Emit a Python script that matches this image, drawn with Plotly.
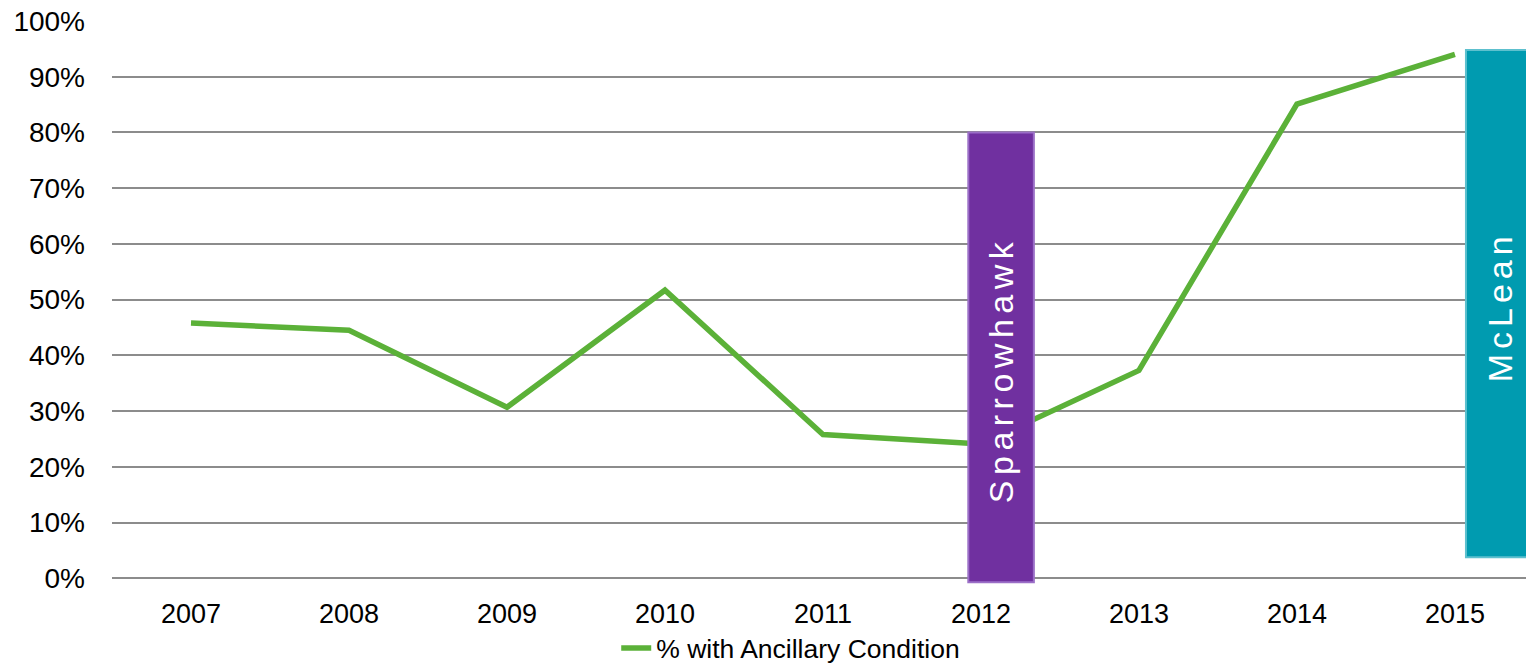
import plotly.graph_objects as go

# Share of cases with an ancillary condition, by year
years = ["2007", "2008", "2009", "2010", "2011", "2012", "2013", "2014", "2015"]
pct_ancillary = [0.458, 0.445, 0.307, 0.517, 0.258, 0.241, 0.373, 0.851, 0.940]

# Period markers: label, x-extent (category units), y-extent (fraction), fill, outline
marker_labels = ["Sparrowhawk", "McLean"]
marker_x0 = [4.92, 8.07]
marker_x1 = [5.335, 8.6]
marker_y0 = [-0.007, 0.038]
marker_y1 = [0.80, 0.948]
marker_text_y = [0.374, 0.488]
marker_fill = ["#7030A0", "#009BB0"]
marker_edge = ["#9B6FC7", "#5DC0CE"]

y_ticks = [i / 10 for i in range(11)]
y_tick_text = [f"{i * 10}%" for i in range(11)]

FONT = "Arial, 'Liberation Sans', sans-serif"

fig = go.Figure()
fig.add_trace(go.Scatter(
    x=list(range(len(years))),
    y=pct_ancillary,
    mode="lines",
    name="% with Ancillary Condition",
    line=dict(color="#5BB138", width=5.5),
))

for lbl, x0, x1, y0, y1, ty, fc, ec in zip(marker_labels, marker_x0, marker_x1, marker_y0,
                                          marker_y1, marker_text_y, marker_fill, marker_edge):
    fig.add_shape(type="rect", xref="x", yref="y", x0=x0, x1=x1, y0=y0, y1=y1,
                  fillcolor=fc, line=dict(color=ec, width=2), layer="above")
    fig.add_annotation(x=(x0 + min(x1, 8.5)) / 2, y=ty, xref="x", yref="y", text=lbl,
                       textangle=-90, showarrow=False,
                       font=dict(family=FONT, size=34, color="white"))

fig.update_layout(
    width=1526, height=663,
    margin=dict(l=112, r=0, t=21, b=78, autoexpand=False),
    plot_bgcolor="white", paper_bgcolor="white",
    font=dict(family=FONT, color="#000000"),
    showlegend=True,
    legend=dict(orientation="h", x=0.480, xanchor="center", y=-0.112, yanchor="middle",
                font=dict(size=26.5, family=FONT), bgcolor="rgba(0,0,0,0)"),
    xaxis=dict(
        tickmode="array", tickvals=list(range(len(years))), ticktext=years,
        range=[-0.5, 8.45], showgrid=False, zeroline=False, showline=False,
        tickfont=dict(size=27), ticks="", ticklabelstandoff=10,
    ),
    yaxis=dict(
        tickmode="array", tickvals=y_ticks, ticktext=y_tick_text,
        range=[-0.012, 1.0], showgrid=True, gridcolor="#8C8C8C", gridwidth=1.5,
        zeroline=False, showline=False, tickfont=dict(size=28), ticks="",
        ticklabelstandoff=26,
    ),
)

spacing_js = """
var gd = document.getElementById('{plot_id}');
gd.querySelectorAll('.annotation-text').forEach(function (t) {
  var s = t.textContent;
  if (s === 'Sparrowhawk') { t.style.letterSpacing = '5.5px'; }
  if (s === 'McLean') { t.style.letterSpacing = '5px'; }
});
"""

fig.write_html("out.html", post_script=spacing_js)
